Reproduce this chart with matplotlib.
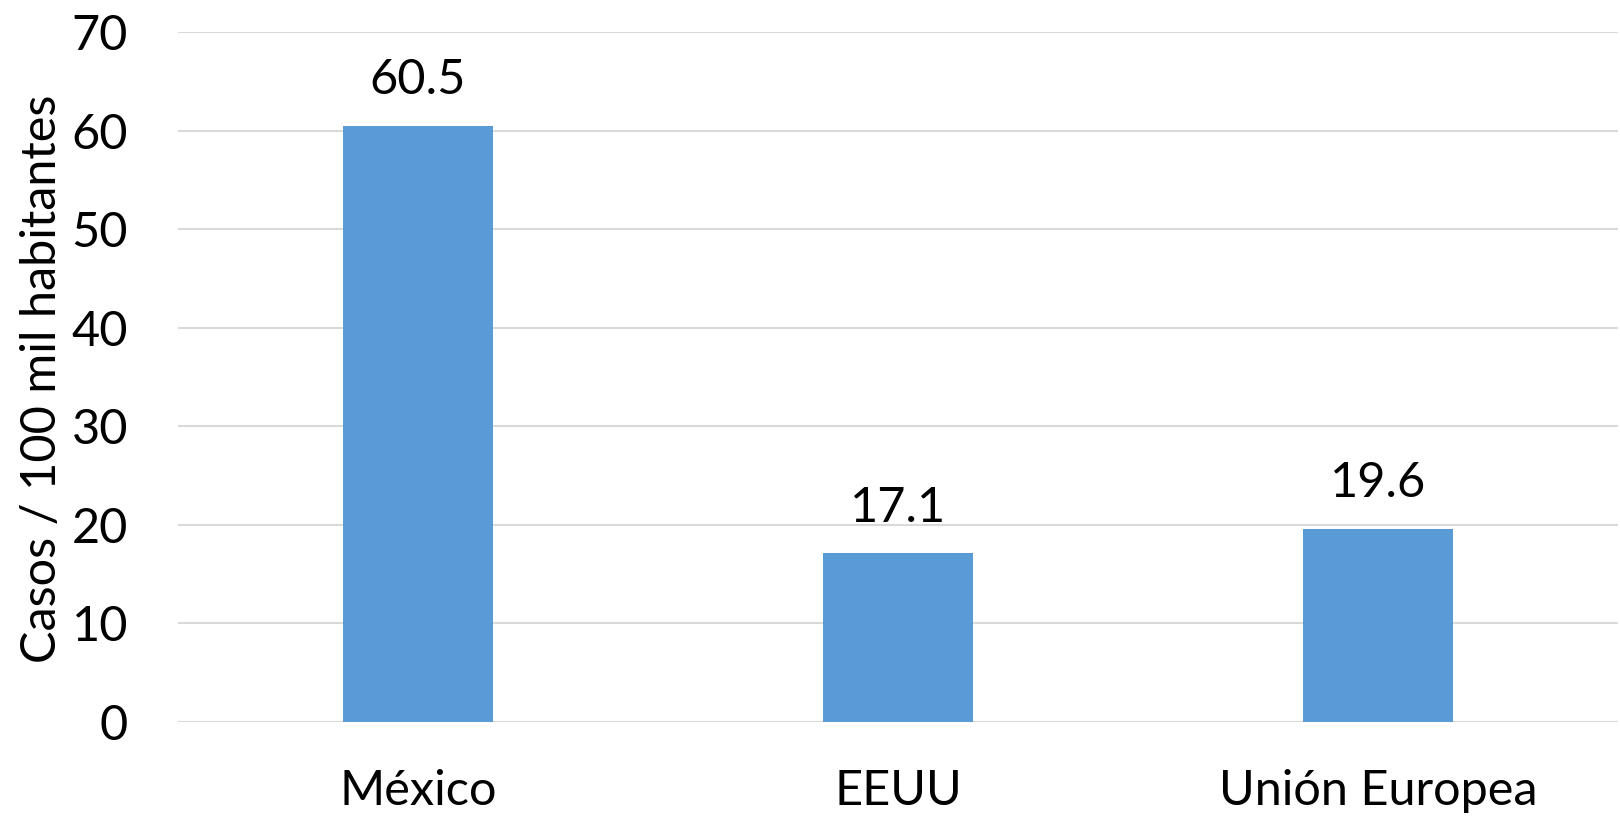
import matplotlib
matplotlib.use("Agg")
import matplotlib.pyplot as plt

categories = ["México", "EEUU", "Unión Europea"]
values = [60.5, 17.1, 19.6]
yticks = [0, 10, 20, 30, 40, 50, 60, 70]

plt.rcParams['font.family'] = ['Lato', 'DejaVu Sans']

fig = plt.figure(figsize=(16.2, 8.17), dpi=100)
ax = fig.add_axes([178/1620, 1-722/817, (1618-178)/1620, (722-32)/817])

x = list(range(len(categories)))
bars = ax.bar(x, values, width=0.312, color="#5B9BD5", zorder=3)
for xi, v in zip(x, values):
    ax.annotate(f"{v:.1f}", (xi, v), xytext=(0, 17), textcoords="offset points",
                ha="center", va="bottom", fontsize=35, color="black")

ax.set_xlim(-0.5, 2.5)
ax.set_ylim(0, 70)
ax.set_yticks(yticks)
ax.set_yticklabels([str(t) for t in yticks])
ax.set_xticks(x)
ax.set_xticklabels(categories)
ax.tick_params(axis='y', length=0, pad=36, labelsize=35)
ax.tick_params(axis='x', length=0, pad=34, labelsize=35)
ax.yaxis.grid(True, color="#D9D9D9", linewidth=1.5, zorder=0)
ax.set_axisbelow(True)
for s in ax.spines.values():
    s.set_visible(False)
ax.set_ylabel("Casos / 100 mil habitantes", fontsize=35)
ax.yaxis.set_label_coords(-(178-64)/1440, 0.497)

fig.savefig("out.png", dpi=100)
